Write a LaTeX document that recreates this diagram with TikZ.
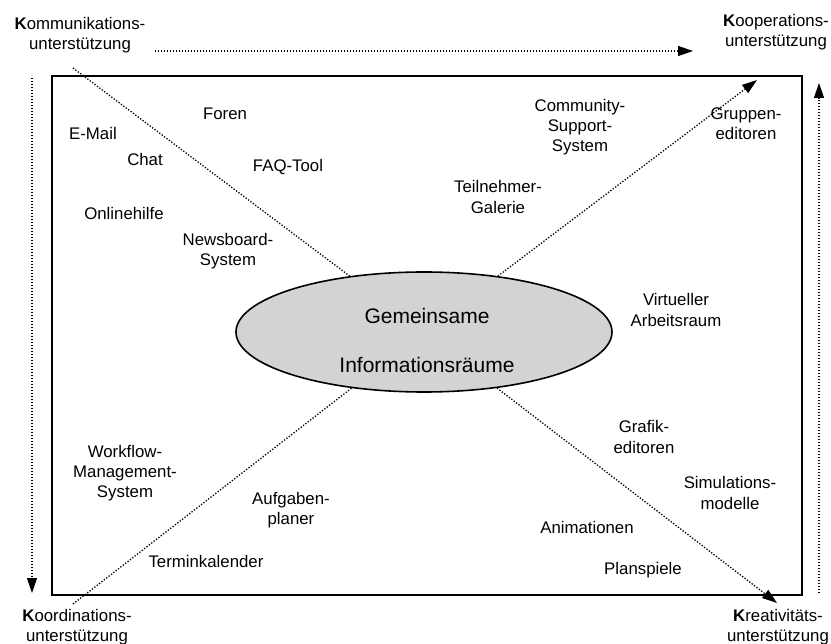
\documentclass[tikz,border=0pt]{standalone}
\usepackage{fontspec}
\setmainfont{Liberation Sans}
\usetikzlibrary{arrows.meta,shapes.geometric}
\definecolor{ellfill}{RGB}{211,211,211}
\begin{document}
\begin{tikzpicture}[x=1pt,y=-1pt,
  lbl/.style={font=\fontsize{16.8}{20.2}\selectfont, align=center, inner sep=0pt},
  big/.style={font=\fontsize{21}{25}\selectfont, inner sep=0pt},
  dotline/.style={line width=1.3pt, dash pattern=on 1.3pt off 1.7pt},
  tip/.style={-{Triangle[length=15pt,width=10pt]}},
  frame/.style={line width=2pt}]
\useasboundingbox (0,0) rectangle (831,644);
% frame
\draw[frame] (52,76) rectangle (802,595);
% central ellipse
\node[ellipse, draw, line width=1.6pt, fill=ellfill, minimum width=376pt, minimum height=120pt, inner sep=0pt] (ell) at (424,332) {};
\node[big] (g1) at (427,316) {Gemeinsame};
\node[big] (g2) at (427,365) {Informationsräume};
% end coordinates
\coordinate (tl) at (73,68);
\coordinate (tr) at (757,80);
\coordinate (bl) at (73,604);
\coordinate (br) at (777,603);
\coordinate (hs) at (155,51);
\coordinate (he) at (693,51);
\coordinate (ls) at (32,78);
\coordinate (le) at (32,593);
\coordinate (rs) at (819,593);
\coordinate (re) at (819,83);
% connectors
\draw[dotline] (tl) -- (ell);
\draw[dotline] (bl) -- (ell);
\draw[dotline,tip] (ell) -- (tr);
\draw[dotline,tip] (ell) -- (br);
\draw[dotline,tip] (hs) -- (he);
\draw[dotline,tip] (ls) -- (le);
\draw[dotline,tip] (rs) -- (re);
% corner labels
\node[lbl] (komm) at (80,35) {{\bfseries K}ommunikations-\\unterstützung};
\node[lbl] (koop) at (776,32) {{\bfseries K}ooperations-\\unterstützung};
\node[lbl] (koor) at (77,627) {{\bfseries K}oordinations-\\unterstützung};
\node[lbl] (krea) at (778,627) {{\bfseries K}reativitäts-\\unterstützung};
% inner labels
\node[lbl] (foren) at (225,114) {Foren};
\node[lbl] (email) at (93,133) {E-Mail};
\node[lbl] (chat) at (145,159) {Chat};
\node[lbl] (faq) at (288,167) {FAQ-Tool};
\node[lbl] (online) at (124,213) {Onlinehilfe};
\node[lbl] (news) at (228,251) {Newsboard-\\System};
\node[lbl] (comm) at (580,127) {Community-\\Support-\\System};
\node[lbl] (grupp) at (746,124) {Gruppen-\\editoren};
\node[lbl] (teil) at (498,197) {Teilnehmer-\\Galerie};
\node[lbl] (virt) at (676,310) {Virtueller\\Arbeitsraum};
\node[lbl] (graf) at (644,437) {Grafik-\\editoren};
\node[lbl] (simu) at (730,493) {Simulations-\\modelle};
\node[lbl] (work) at (125,473) {Workflow-\\Management-\\System};
\node[lbl] (aufg) at (291,510) {Aufgaben-\\planer};
\node[lbl] (term) at (206,561) {Terminkalender};
\node[lbl] (anim) at (587,527) {Animationen};
\node[lbl] (plan) at (643,570) {Planspiele};
\end{tikzpicture}
\end{document}
